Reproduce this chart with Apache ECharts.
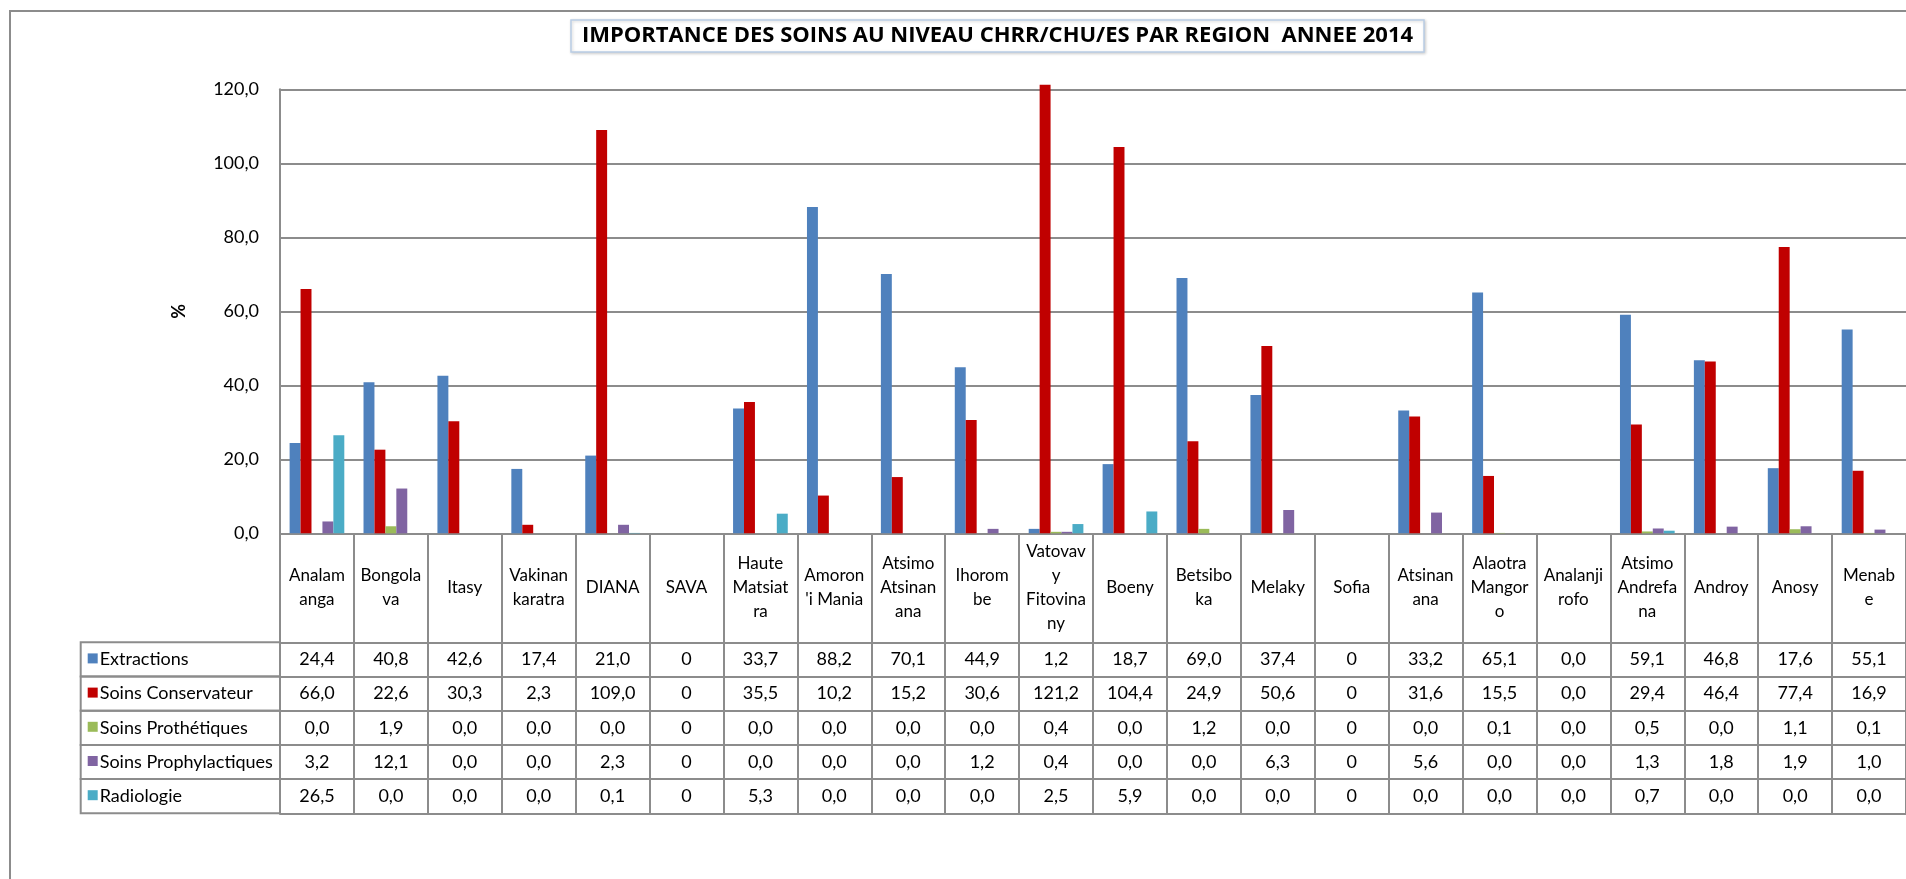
<!DOCTYPE html>
<html>
<head>
<meta charset="utf-8">
<title>Importance des soins par région 2014</title>
<script src="https://cdn.jsdelivr.net/npm/echarts@6/dist/echarts.min.js"></script>
<style>
  html, body { margin: 0; padding: 0; background: #fff; }
  #chart { width: 1906px; height: 879px; }
</style>
</head>
<body>
<div id="chart"></div>
<script>
// régions, coupées comme dans le tableau Excel
const regions = [
  'Analam\nanga', 'Bongola\nva', 'Itasy', 'Vakinan\nkaratra', 'DIANA', 'SAVA',
  'Haute\nMatsiat\nra', "Amoron\n'i Mania", 'Atsimo\nAtsinan\nana', 'Ihorom\nbe',
  'Vatovav\ny\nFitovina\nny', 'Boeny', 'Betsibo\nka', 'Melaky', 'Sofia',
  'Atsinan\nana', 'Alaotra\nMangor\no', 'Analanji\nrofo', 'Atsimo\nAndrefa\nna',
  'Androy', 'Anosy', 'Menab\ne'
]

// null = pas de données (affiché "0")
const extractions = [24.4, 40.8, 42.6, 17.4, 21.0, null, 33.7, 88.2, 70.1, 44.9, 1.2, 18.7, 69.0, 37.4, null, 33.2, 65.1, 0.0, 59.1, 46.8, 17.6, 55.1]
const conservateur = [66.0, 22.6, 30.3, 2.3, 109.0, null, 35.5, 10.2, 15.2, 30.6, 121.2, 104.4, 24.9, 50.6, null, 31.6, 15.5, 0.0, 29.4, 46.4, 77.4, 16.9]
const prothetiques = [0.0, 1.9, 0.0, 0.0, 0.0, null, 0.0, 0.0, 0.0, 0.0, 0.4, 0.0, 1.2, 0.0, null, 0.0, 0.1, 0.0, 0.5, 0.0, 1.1, 0.1]
const prophylactiques = [3.2, 12.1, 0.0, 0.0, 2.3, null, 0.0, 0.0, 0.0, 1.2, 0.4, 0.0, 0.0, 6.3, null, 5.6, 0.0, 0.0, 1.3, 1.8, 1.9, 1.0]
const radiologie = [26.5, 0.0, 0.0, 0.0, 0.1, null, 5.3, 0.0, 0.0, 0.0, 2.5, 5.9, 0.0, 0.0, null, 0.0, 0.0, 0.0, 0.7, 0.0, 0.0, 0.0]

const seriesNames = ['Extractions', 'Soins Conservateur', 'Soins Prothétiques', 'Soins Prophylactiques', 'Radiologie']
const seriesData = [extractions, conservateur, prothetiques, prophylactiques, radiologie]
const colors = ['#4F81BD', '#C00000', '#9BBB59', '#8064A2', '#4BACC6']

const yTicks = { min: 0, max: 120, interval: 20 }

const FONT = 'Lato'
const LINE = '#8c8c8c'

// mise en page (px)
const plotLeft = 280
const plotTop = 89.3
const plotHeight = 444
const catWidth = 74.2
const labelRow = 109      // hauteur de la ligne des régions
const rowH = 34.2         // hauteur des lignes du tableau
const tableLeft = 80.7

const fmt = v => v == null ? '0' : v.toFixed(1).replace('.', ',')

const myChart = echarts.init(document.getElementById('chart'))

// axes du tableau de données : un axe par ligne, décalé sous le graphique
const tableAxes = seriesData.map((vals, i) => ({
  type: 'category',
  gridIndex: 0,
  position: 'bottom',
  offset: labelRow + rowH * i,
  data: vals.map(fmt),
  axisLine: { show: true, onZero: false, lineStyle: { color: LINE, width: 2 } },
  axisTick: { show: true, interval: 0, length: rowH, lineStyle: { color: LINE, width: 2 } },
  axisLabel: {
    interval: 0,
    margin: rowH / 2,
    verticalAlign: 'middle',
    color: '#000',
    fontFamily: FONT,
    fontSize: 18
  },
  splitLine: { show: false }
}))

// trait de fermeture en bas du tableau
tableAxes.push({
  type: 'category',
  gridIndex: 0,
  position: 'bottom',
  offset: labelRow + rowH * seriesData.length,
  data: regions,
  axisLine: { show: true, onZero: false, lineStyle: { color: LINE, width: 2 } },
  axisTick: { show: false },
  axisLabel: { show: false },
  splitLine: { show: false }
})

// colonne de légende à gauche du tableau
const legendCells = []
seriesNames.forEach((name, i) => {
  const y = plotTop + plotHeight + labelRow + rowH * i
  legendCells.push({
    type: 'rect',
    shape: { x: tableLeft, y: y, width: plotLeft - tableLeft, height: rowH },
    style: { fill: 'none', stroke: LINE, lineWidth: 2 }
  })
  legendCells.push({
    type: 'rect',
    shape: { x: tableLeft + 7, y: y + rowH / 2 - 6, width: 10, height: 10 },
    style: { fill: colors[i] }
  })
  legendCells.push({
    type: 'text',
    x: tableLeft + 19,
    y: y + rowH / 2,
    style: {
      text: name,
      fill: '#000',
      font: '18px ' + FONT,
      verticalAlign: 'middle',
      align: 'left'
    }
  })
})

const option = {
  backgroundColor: '#fff',
  animation: false,
  color: colors,
  title: {
    text: 'IMPORTANCE DES SOINS AU NIVEAU CHRR/CHU/ES PAR REGION  ANNEE 2014',
    left: 571,
    top: 20,
    padding: [5, 11, 5, 11],
    borderColor: '#B9CDE5',
    borderWidth: 1.5,
    backgroundColor: '#fff',
    shadowColor: 'rgba(0,0,0,0.18)',
    shadowBlur: 3,
    shadowOffsetX: 1,
    shadowOffsetY: 1,
    textStyle: {
      fontFamily: 'Open Sans',
      fontWeight: 'bold',
      fontSize: 22,
      color: '#000'
    }
  },
  grid: {
    left: plotLeft,
    top: plotTop,
    width: catWidth * regions.length,
    height: plotHeight
  },
  xAxis: [
    {
      type: 'category',
      position: 'bottom',
      data: regions,
      axisLine: { show: true, onZero: false, lineStyle: { color: LINE, width: 2 } },
      axisTick: { show: true, interval: 0, length: labelRow, lineStyle: { color: LINE, width: 2 } },
      axisLabel: {
        interval: 0,
        margin: labelRow / 2,
        verticalAlign: 'middle',
        lineHeight: 24,
        color: '#000',
        fontFamily: FONT,
        fontSize: 17
      }
    },
    ...tableAxes
  ],
  yAxis: {
    type: 'value',
    min: yTicks.min,
    max: yTicks.max,
    interval: yTicks.interval,
    name: '%',
    nameLocation: 'middle',
    nameGap: 92,
    nameTextStyle: { fontFamily: FONT, fontWeight: 'bold', fontSize: 18, color: '#000' },
    axisLine: { show: true, lineStyle: { color: LINE, width: 2 } },
    axisTick: { show: false },
    axisLabel: {
      margin: 21,
      color: '#000',
      fontFamily: FONT,
      fontSize: 18,
      formatter: v => v.toFixed(1).replace('.', ',')
    },
    splitLine: { show: true, lineStyle: { color: LINE, width: 2 } }
  },
  graphic: [
    {
      type: 'rect',
      z: -1,
      shape: { x: 10, y: 11, width: 2000, height: 1000 },
      style: { fill: 'none', stroke: LINE, lineWidth: 2 }
    },
    ...legendCells
  ],
  series: seriesNames.map((name, i) => ({
    name: name,
    type: 'bar',
    xAxisIndex: 0,
    clip: false,
    barGap: '0%',
    barCategoryGap: '26%',
    itemStyle: { color: colors[i] },
    data: seriesData[i]
  }))
}

myChart.setOption(option)
window.addEventListener('resize', () => myChart.resize())
</script>
</body>
</html>
